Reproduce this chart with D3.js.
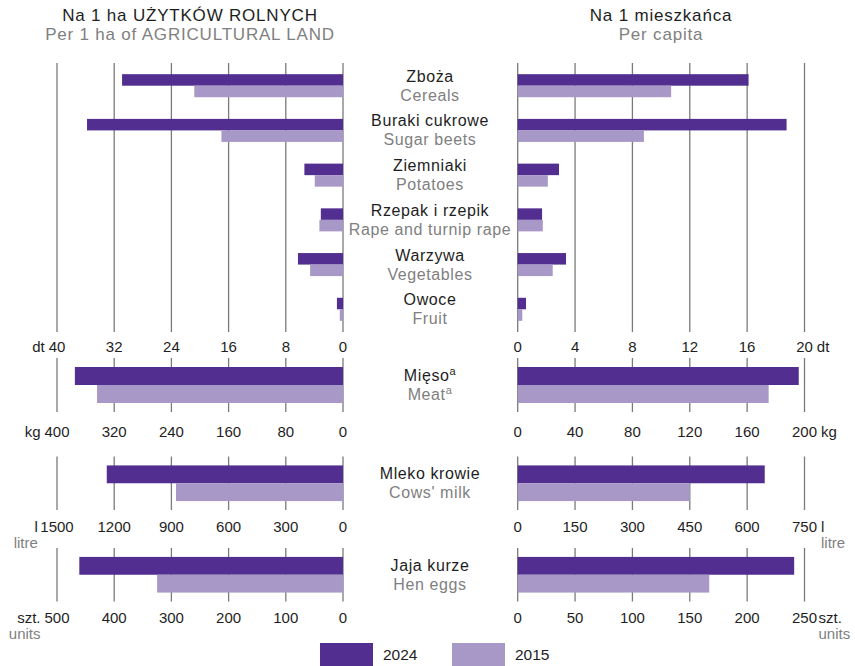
<!DOCTYPE html>
<html>
<head>
<meta charset="utf-8">
<script src="https://cdn.jsdelivr.net/npm/d3@7"></script>
<style>
  html, body { margin: 0; padding: 0; background: #fff; }
  svg { display: block; font-family: "Liberation Sans", Arial, sans-serif; }
</style>
</head>
<body>
<svg id="chart" width="855" height="666"></svg>
<script>
// Crop production (dt)
const cropsPl = ["Zboża", "Buraki cukrowe", "Ziemniaki", "Rzepak i rzepik", "Warzywa", "Owoce"];
const cropsEn = ["Cereals", "Sugar beets", "Potatoes", "Rape and turnip rape", "Vegetables", "Fruit"];
const cropsPerHa2024 = [30.9, 35.8, 5.4, 3.1, 6.3, 0.85];
const cropsPerHa2015 = [20.8, 17.0, 3.95, 3.3, 4.6, 0.45];
const cropsPerCapita2024 = [16.1, 18.75, 2.88, 1.7, 3.37, 0.58];
const cropsPerCapita2015 = [10.7, 8.8, 2.1, 1.75, 2.44, 0.32];
const cropTicksHa = [0, 8, 16, 24, 32, 40];
const cropTicksCapita = [0, 4, 8, 12, 16, 20];

// Animal products
const meatPerHa = { "2024": 375, "2015": 344 };
const meatPerCapita = { "2024": 196, "2015": 175 };
const meatTicksHa = [0, 80, 160, 240, 320, 400];
const meatTicksCapita = [0, 40, 80, 120, 160, 200];

const milkPerHa = { "2024": 1239, "2015": 876 };
const milkPerCapita = { "2024": 646, "2015": 450 };
const milkTicksHa = [0, 300, 600, 900, 1200, 1500];
const milkTicksCapita = [0, 150, 300, 450, 600, 750];

const eggsPerHa = { "2024": 461, "2015": 325 };
const eggsPerCapita = { "2024": 241, "2015": 167 };
const eggsTicksHa = [0, 100, 200, 300, 400, 500];
const eggsTicksCapita = [0, 50, 100, 150, 200, 250];

const years = ["2024", "2015"];
const colors = { "2024": "#522e91", "2015": "#a898c8" };

const svg = d3.select("#chart");
const DARK = "#1e1e1e", GREY = "#808080", GRID = "#7a7a7a";
const leftRange = [343, 57], rightRange = [517.7, 804.5], midX = 430;

// Titles
function title(x, pl, en) {
  svg.append("text").attr("x", x).attr("y", 21).attr("text-anchor", "middle")
    .attr("font-size", 17).attr("letter-spacing", 0.8).attr("fill", DARK).text(pl);
  svg.append("text").attr("x", x).attr("y", 40).attr("text-anchor", "middle")
    .attr("font-size", 17).attr("letter-spacing", 0.8).attr("fill", GREY).text(en);
}
title(190, "Na 1 ha UŻYTKÓW ROLNYCH", "Per 1 ha of AGRICULTURAL LAND");
title(661, "Na 1 mieszkańca", "Per capita");

function gridlines(scale, ticks, y0, y1) {
  svg.append("g").selectAll("line").data(ticks).join("line")
    .attr("x1", d => scale(d)).attr("x2", d => scale(d))
    .attr("y1", y0).attr("y2", y1)
    .attr("stroke", GRID).attr("stroke-width", 1.3);
}

// Tick labels; the outer tick carries the unit (and an optional grey English unit below)
function tickLabels(scale, ticks, y, unit, side, unitGap, subUnit) {
  const g = svg.append("g").attr("font-size", 15).attr("fill", DARK);
  g.selectAll("text").data(ticks).join("text")
    .attr("x", d => scale(d)).attr("y", y).attr("text-anchor", "middle").text(d => d);
  const last = ticks[ticks.length - 1];
  const num = g.selectAll("text").filter(d => d === last).node();
  const w = num.getComputedTextLength();
  const x = side === "left" ? scale(last) - w / 2 - unitGap : scale(last) + w / 2 + unitGap;
  const anchor = side === "left" ? "end" : "start";
  g.append("text").attr("x", x).attr("y", y).attr("text-anchor", anchor).text(unit);
  if (subUnit) {
    g.append("text").attr("x", x).attr("y", y + 16).attr("text-anchor", anchor)
      .attr("fill", GREY).text(subUnit);
  }
}

function barPair(xL, xR, yPos, yYear, perHa, perCapita) {
  const g = svg.append("g");
  g.selectAll("rect.l").data(years).join("rect").attr("class", "l")
    .attr("x", yr => xL(perHa[yr])).attr("width", yr => xL(0) - xL(perHa[yr]))
    .attr("y", yr => yPos + yYear(yr)).attr("height", yYear.bandwidth())
    .attr("fill", yr => colors[yr]);
  g.selectAll("rect.r").data(years).join("rect").attr("class", "r")
    .attr("x", xR(0)).attr("width", yr => xR(perCapita[yr]) - xR(0))
    .attr("y", yr => yPos + yYear(yr)).attr("height", yYear.bandwidth())
    .attr("fill", yr => colors[yr]);
}

function centerLabel(cy, pl, en, sup) {
  const t1 = svg.append("text").attr("x", midX).attr("y", cy - 4).attr("text-anchor", "middle")
    .attr("font-size", 16).attr("letter-spacing", 0.6).attr("fill", DARK).text(pl);
  const t2 = svg.append("text").attr("x", midX).attr("y", cy + 15).attr("text-anchor", "middle")
    .attr("font-size", 16).attr("letter-spacing", 0.6).attr("fill", GREY).text(en);
  if (sup) {
    [t1, t2].forEach(t => t.append("tspan").attr("font-size", 11).attr("dy", -6).text(sup));
  }
}

// --- Crops section
const cropTop = 63, cropBottom = 332;
const xCropHa = d3.scaleLinear().domain([0, 40]).range(leftRange);
const xCropCap = d3.scaleLinear().domain([0, 20]).range(rightRange);
const yCrop = d3.scaleBand().domain(cropsPl).range([cropTop, cropBottom])
  .paddingInner(0.485).paddingOuter(0.25);
const yCropYear = d3.scaleBand().domain(years).range([0, yCrop.bandwidth()]);

gridlines(xCropHa, cropTicksHa, cropTop, cropBottom);
gridlines(xCropCap, cropTicksCapita, cropTop, cropBottom);
cropsPl.forEach((c, i) => {
  const perHa = { "2024": cropsPerHa2024[i], "2015": cropsPerHa2015[i] };
  const perCap = { "2024": cropsPerCapita2024[i], "2015": cropsPerCapita2015[i] };
  barPair(xCropHa, xCropCap, yCrop(c), yCropYear, perHa, perCap);
  centerLabel(yCrop(c) + yCrop.bandwidth() / 2, c, cropsEn[i]);
});
tickLabels(xCropHa, cropTicksHa, 352, "dt", "left", 4);
tickLabels(xCropCap, cropTicksCapita, 352, "dt", "right", 4);

// --- Single-row sections
function singleSection(y0, y1, pl, en, sup, ticksHa, ticksCap, perHa, perCap, labelY, unitL, unitR, gapL, gapR, subUnit) {
  const xL = d3.scaleLinear().domain([0, d3.max(ticksHa)]).range(leftRange);
  const xR = d3.scaleLinear().domain([0, d3.max(ticksCap)]).range(rightRange);
  const yS = d3.scaleBand().domain([pl]).range([y0, y1]).paddingInner(0).paddingOuter(0.25);
  const yYear = d3.scaleBand().domain(years).range([0, yS.bandwidth()]);
  gridlines(xL, ticksHa, y0, y1);
  gridlines(xR, ticksCap, y0, y1);
  barPair(xL, xR, yS(pl), yYear, perHa, perCap);
  centerLabel(yS(pl) + yS.bandwidth() / 2, pl, en, sup);
  tickLabels(xL, ticksHa, labelY, unitL, "left", gapL, subUnit);
  tickLabels(xR, ticksCap, labelY, unitR, "right", gapR, subUnit);
}

singleSection(358, 412, "Mięso", "Meat", "a", meatTicksHa, meatTicksCapita,
  meatPerHa, meatPerCapita, 437, "kg", "kg", 4, 4, null);
singleSection(456.5, 510, "Mleko krowie", "Cows' milk", null, milkTicksHa, milkTicksCapita,
  milkPerHa, milkPerCapita, 531.5, "l", "l", 2.5, 4, "litre");
singleSection(548, 601.5, "Jaja kurze", "Hen eggs", null, eggsTicksHa, eggsTicksCapita,
  eggsPerHa, eggsPerCapita, 622.5, "szt.", "szt.", 4, 1.5, "units");

// --- Legend
const legendX = d3.scalePoint().domain(years).range([320, 452]);
const lg = svg.append("g").selectAll("g").data(years).join("g")
  .attr("transform", yr => `translate(${legendX(yr)},643)`);
lg.append("rect").attr("width", 53).attr("height", 23).attr("fill", yr => colors[yr]);
lg.append("text").attr("x", 63).attr("y", 17).attr("font-size", 15.5).attr("fill", DARK).text(yr => yr);
</script>
</body>
</html>
